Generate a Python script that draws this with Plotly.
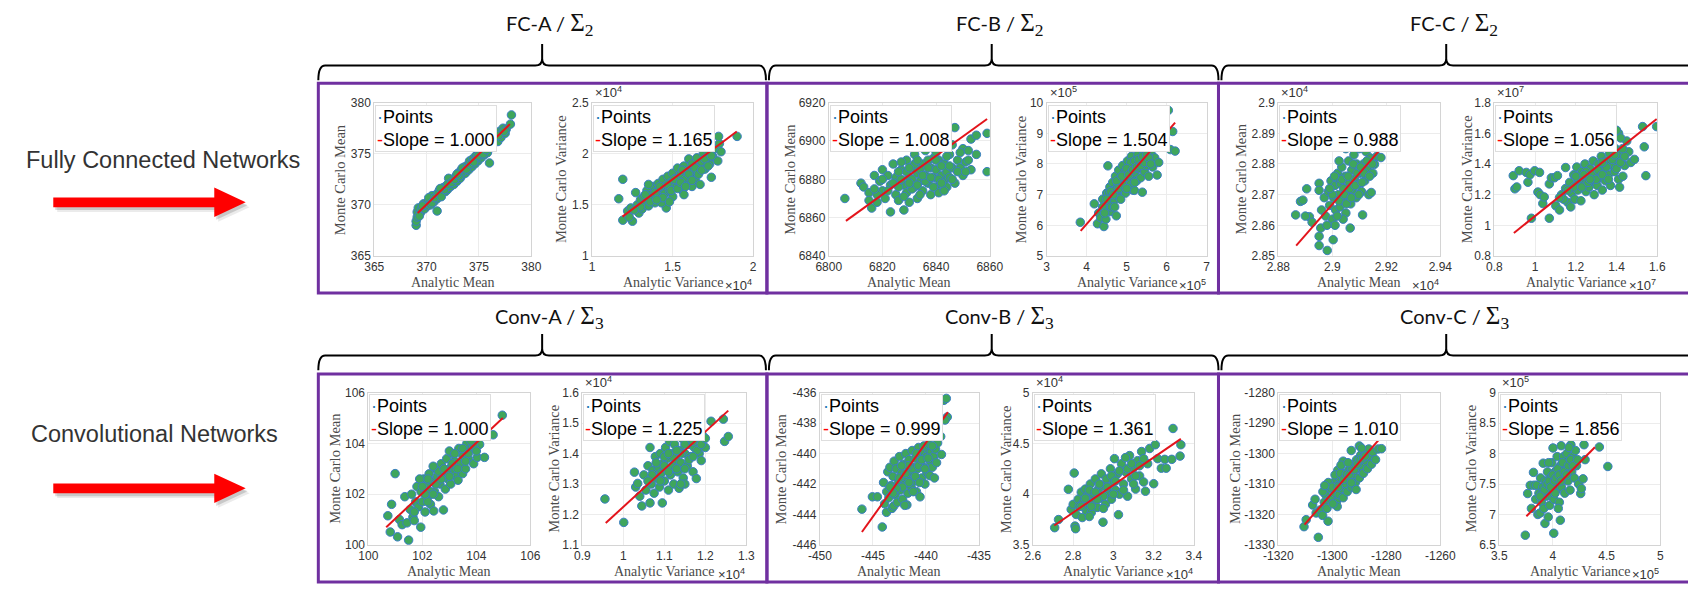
import plotly.graph_objects as go

W, H = 1688, 591

# ---------------- data ----------------
group_names = ["FC-A", "FC-B", "FC-C", "Conv-A", "Conv-B", "Conv-C"]
sigma_index = [2, 2, 2, 3, 3, 3]
row_labels = ["Fully Connected Networks", "Convolutional Networks"]
slopes = ["1.000", "1.165", "1.008", "1.504", "0.988", "1.056",
          "1.000", "1.225", "0.999", "1.361", "1.010", "1.856"]
x_titles = ["Analytic Mean", "Analytic Variance"] * 6
y_titles = ["Monte Carlo Mean", "Monte Carlo Variance"] * 6
exponents = [None, 4, None, 5, 4, 7, None, 4, None, 4, None, 5]

x_ticks = [
    [365, 370, 375, 380], [1, 1.5, 2],
    [6800, 6820, 6840, 6860], [3, 4, 5, 6, 7],
    [2.88, 2.9, 2.92, 2.94], [0.8, 1, 1.2, 1.4, 1.6],
    [100, 102, 104, 106], [0.9, 1, 1.1, 1.2, 1.3],
    [-450, -445, -440, -435], [2.6, 2.8, 3, 3.2, 3.4],
    [-1320, -1300, -1280, -1260], [3.5, 4, 4.5, 5],
]
y_ticks = [
    [365, 370, 375, 380], [1, 1.5, 2, 2.5],
    [6840, 6860, 6880, 6900, 6920], [5, 6, 7, 8, 9, 10],
    [2.85, 2.86, 2.87, 2.88, 2.89, 2.9], [0.8, 1, 1.2, 1.4, 1.6, 1.8],
    [100, 102, 104, 106], [1.1, 1.2, 1.3, 1.4, 1.5, 1.6],
    [-446, -444, -442, -440, -438, -436], [3.5, 4, 4.5, 5],
    [-1330, -1320, -1310, -1300, -1290, -1280], [6.5, 7, 7.5, 8, 8.5, 9],
]

fit_x_start = [369.15, 1.188, 6806.4, 3.85, 2.8866, 0.896, 100.66, 0.957, -446.04, 2.706, -1310.3, 3.753]
fit_x_end = [377.95, 1.898, 6859.0, 6.21, 2.9180, 1.597, 104.98, 1.256, -437.93, 3.335, -1282.0, 4.391]
fit_y_start = [369.2, 1.385, 6858.3, 5.82, 2.8534, 0.950, 100.70, 1.172, -445.15, 3.692, -1323.3, 6.970]
fit_y_end = [377.9, 2.218, 6911.5, 9.35, 2.8850, 1.693, 105.0, 1.541, -437.28, 4.545, -1294.7, 8.103]

fc_a_mean = [(369.0,368.0),(369.0,368.4),(369.1,368.8),(369.1,369.3),(369.2,369.7),(369.4,369.2),(369.5,369.6),
    (369.7,370.1),(369.8,369.6),(370.0,370.2),(370.1,369.9),(370.3,370.5),(370.4,370.0),(370.6,370.6),(370.7,370.3),
    (370.9,371.0),(371.0,369.4),(371.0,370.6),(371.2,371.4),(371.3,370.9),(371.5,371.2),(371.6,371.7),(371.8,371.3),
    (371.9,371.9),(372.0,371.5),(372.2,372.3),(372.3,371.8),(372.5,372.5),(372.6,372.0),(372.8,372.8),(372.9,372.3),
    (373.0,373.1),(373.2,372.6),(373.3,373.4),(373.4,372.9),(373.6,373.7),(373.7,373.1),(373.9,373.9),(374.0,373.4),
    (374.1,374.3),(374.3,373.7),(374.4,374.5),(374.6,374.0),(374.7,374.8),(374.9,374.3),(375.0,375.0),(375.2,374.6),
    (375.3,375.3),(375.5,374.9),(375.6,375.6),(375.8,375.1),(376.0,374.1),(376.0,375.8),(376.3,376.0),(376.5,376.4),
    (376.6,376.9),(376.8,376.2),(377.0,377.2),(377.1,376.6),(377.3,377.5),(377.5,377.0),(377.6,377.4),(378.0,377.9),
    (378.1,378.8),(370.5,370.9),(372.1,372.6),(373.5,373.3),(374.8,374.6),
    (369.3,368.9),(369.6,369.9),(370.2,370.7),(370.5,370.2),(370.8,370.7),(371.1,371.1),(371.4,370.8),(371.7,371.5),
    (372.0,372.0),(372.4,372.2),(372.7,372.5),(373.1,372.8),(373.4,373.6),(373.8,373.5),(374.2,374.0),(374.5,374.2),
    (374.9,374.8),(375.4,375.0),(375.7,375.4),(376.2,375.6),(376.4,376.7),(376.9,376.8),(377.4,377.2),(371.3,371.6),
    (372.9,373.0)]

fc_a_var = [(1.19,1.75),(1.165,1.56),(1.19,1.35),(1.22,1.44),(1.25,1.34),(1.24,1.47),(1.27,1.62),(1.28,1.50),
    (1.29,1.42),(1.30,1.55),(1.31,1.46),(1.32,1.58),(1.33,1.51),(1.34,1.64),(1.35,1.49),(1.36,1.60),(1.37,1.55),
    (1.38,1.68),(1.39,1.52),(1.40,1.63),(1.41,1.71),(1.42,1.58),(1.43,1.66),(1.44,1.75),(1.45,1.61),(1.46,1.69),
    (1.46,1.47),(1.47,1.78),(1.48,1.64),(1.49,1.72),(1.50,1.81),(1.50,1.58),(1.51,1.68),(1.52,1.76),(1.53,1.86),
    (1.54,1.70),(1.55,1.80),(1.56,1.64),(1.57,1.88),(1.58,1.75),(1.59,1.83),(1.60,1.95),(1.60,1.70),(1.61,1.79),
    (1.62,1.90),(1.63,1.84),(1.64,1.74),(1.65,1.96),(1.66,1.87),(1.67,1.70),(1.68,1.92),(1.69,2.00),(1.70,1.85),
    (1.71,1.95),(1.72,2.03),(1.73,1.90),(1.74,1.77),(1.75,1.97),(1.76,2.05),(1.78,1.93),(1.79,2.10),(1.785,2.17),
    (1.80,2.02),(1.90,2.17),(1.57,1.60),(1.43,1.52),(1.35,1.70),(1.62,1.68),
    (1.30,1.48),(1.33,1.60),(1.36,1.53),(1.39,1.62),(1.42,1.68),(1.44,1.57),(1.47,1.70),(1.49,1.64),(1.51,1.75),
    (1.53,1.66),(1.55,1.72),(1.56,1.84),(1.58,1.68),(1.60,1.80),(1.62,1.74),(1.64,1.86),(1.66,1.80),(1.68,1.84),
    (1.70,1.95),(1.72,1.88),(1.74,1.98),(1.48,1.53),(1.40,1.55),(1.26,1.45),(1.23,1.38)]

fc_b_mean = [(6806,6870),(6812,6878),(6813,6876),(6815,6873),(6815,6869),(6816,6865),(6817,6882),(6818,6868),
    (6819,6879),(6820,6885),(6820,6874),(6821,6870),(6822,6882),(6823,6863),(6823,6877),(6824,6888),(6825,6872),
    (6825,6881),(6826,6869),(6827,6885),(6828,6864),(6828,6877),(6829,6890),(6829,6873),(6830,6881),(6830,6868),
    (6831,6886),(6832,6876),(6832,6893),(6833,6870),(6833,6883),(6834,6879),(6835,6888),(6835,6874),(6836,6895),
    (6836,6882),(6837,6878),(6838,6886),(6838,6872),(6839,6891),(6839,6881),(6840,6876),(6840,6885),(6841,6873),
    (6841,6890),(6842,6882),(6843,6879),(6843,6888),(6844,6884),(6845,6881),(6845,6893),(6846,6886),(6847,6907),
    (6847,6878),(6848,6890),(6849,6886),(6850,6882),(6850,6896),(6851,6889),(6852,6890),(6853,6901),(6853,6885),
    (6855,6903),(6855,6893),(6859,6904),(6859,6884),(6826,6876),(6831,6880),(6834,6885),(6837,6890),(6827,6880),
    (6840,6894),(6822,6874),(6818,6872),(6844,6876),(6838,6898),(6832,6888),(6829,6884),
    (6824,6878),(6826,6884),(6828,6871),(6830,6886),(6831,6875),(6833,6890),(6834,6872),(6836,6879),(6837,6886),
    (6839,6876),(6840,6890),(6841,6880),(6842,6887),(6843,6874),(6844,6892),(6846,6880),(6848,6884),(6849,6894),
    (6851,6884),(6846,6898),(6835,6882),(6838,6881),(6842,6878),(6830,6878),(6827,6889),(6833,6877),(6845,6887),
    (6820,6880),(6817,6875),(6852,6895)]

fc_b_var = [(3.84,6.10),(4.19,6.70),(4.27,6.05),(4.30,6.40),(4.35,6.25),(4.40,6.85),(4.43,5.96),(4.45,6.55),
    (4.48,6.20),(4.50,7.05),(4.53,7.94),(4.55,6.70),(4.58,7.25),(4.60,6.45),(4.62,6.95),(4.65,7.40),(4.68,6.80),
    (4.70,7.15),(4.72,7.60),(4.74,6.31),(4.76,7.00),(4.78,7.35),(4.80,7.80),(4.82,6.90),(4.85,7.55),(4.88,7.20),
    (4.90,7.95),(4.92,7.40),(4.95,7.70),(4.97,7.05),(5.00,7.50),(5.02,8.10),(5.05,7.30),(5.07,7.85),(5.10,7.60),
    (5.12,8.25),(5.15,7.15),(5.17,7.95),(5.19,7.14),(5.20,7.70),(5.23,8.05),(5.25,7.45),(5.28,8.30),(5.30,7.85),
    (5.33,8.15),(5.35,7.55),(5.39,7.08),(5.40,8.00),(5.43,8.35),(5.45,7.75),(5.48,8.20),(5.50,7.95),(5.53,8.45),
    (5.55,7.60),(5.58,8.10),(5.62,8.30),(5.65,7.90),(5.70,8.20),(5.76,7.64),(5.80,8.05),(6.04,9.75),(6.09,8.47),
    (6.15,9.06),(6.21,8.42),(4.62,6.60),(4.95,7.25),(5.10,8.05),(4.40,6.60),(4.85,6.85),
    (4.55,7.05),(4.60,7.10),(4.67,7.00),(4.75,7.45),(4.80,7.20),(4.88,7.60),(4.93,7.30),(5.00,7.85),(5.05,7.65),
    (5.10,7.35),(5.15,7.80),(5.20,8.10),(5.25,7.90),(5.30,8.15),(5.35,7.95),(5.40,8.25),(5.45,8.05),(5.50,8.30),
    (5.55,8.20),(5.60,8.00),(4.45,6.40),(4.50,6.85),(4.70,6.60),(5.00,7.20),(5.20,7.40)]

fc_c_mean = [(2.8864,2.8634),(2.8882,2.8678),(2.8891,2.8682),(2.8905,2.8719),(2.8915,2.8628),(2.8900,2.8630),
    (2.8925,2.8610),(2.8951,2.8737),(2.8951,2.8714),(2.8951,2.8564),(2.8951,2.8534),(2.8981,2.8518),(2.9003,2.8553),
    (2.8957,2.8591),(2.8960,2.8650),(2.8970,2.8690),(2.8975,2.8630),(2.8985,2.8710),(2.8990,2.8665),(2.8995,2.8745),
    (2.9000,2.8620),(2.9005,2.8690),(2.9010,2.8730),(2.9012,2.8650),(2.9020,2.8770),(2.9022,2.8700),(2.9028,2.8660),
    (2.9030,2.8735),(2.9035,2.8790),(2.9040,2.8680),(2.9042,2.8720),(2.9048,2.8760),(2.9050,2.8640),(2.9055,2.8700),
    (2.9060,2.8810),(2.9062,2.8740),(2.9066,2.8591),(2.9068,2.8670),(2.9072,2.8780),(2.9075,2.8715),(2.9080,2.8830),
    (2.9082,2.8750),(2.9088,2.8690),(2.9090,2.8800),(2.9095,2.8735),(2.9100,2.8850),(2.9102,2.8770),(2.9108,2.8710),
    (2.9112,2.8634),(2.9115,2.8800),(2.9120,2.8745),(2.9125,2.8840),(2.9130,2.8780),(2.9135,2.8700),(2.9140,2.8820),
    (2.9144,2.8707),(2.9150,2.8770),(2.9156,2.8799),(2.9165,2.8825),(2.9180,2.8821),(2.9010,2.8600),(2.9040,2.8620),
    (2.8980,2.8600),(2.9025,2.8810),(2.9050,2.8850),(2.9070,2.8860),
    (2.9000,2.8700),(2.9015,2.8755),(2.9025,2.8680),(2.9035,2.8750),(2.9045,2.8700),(2.9058,2.8760),(2.9065,2.8720),
    (2.9078,2.8800),(2.9085,2.8730),(2.9092,2.8770),(2.9098,2.8700),(2.9105,2.8790),(2.9118,2.8770),(2.9128,2.8810),
    (2.9138,2.8760),(2.9148,2.8800),(2.8990,2.8720),(2.9018,2.8630),(2.9052,2.8670),(2.9008,2.8760),(2.9070,2.8690),
    (2.9110,2.8740)]

fc_c_var = [(0.893,1.324),(0.901,1.238),(0.910,1.250),(0.922,1.356),(0.957,1.345),(0.965,1.281),(0.975,1.330),
    (0.998,1.356),(1.022,1.345),(0.982,1.046),(1.014,1.217),(1.025,1.200),(1.038,1.142),(1.045,1.185),(1.070,1.270),
    (1.070,1.046),(1.080,1.310),(1.095,1.310),(1.110,1.324),(1.102,1.127),(1.120,1.100),(1.130,1.200),(1.150,1.377),
    (1.150,1.240),(1.160,1.150),(1.170,1.280),(1.175,1.120),(1.180,1.210),(1.190,1.330),(1.195,1.170),(1.200,1.260),
    (1.205,1.380),(1.210,1.230),(1.220,1.300),(1.225,1.160),(1.230,1.350),(1.240,1.270),(1.245,1.400),(1.250,1.220),
    (1.260,1.320),(1.265,1.250),(1.270,1.370),(1.280,1.290),(1.285,1.420),(1.290,1.200),(1.300,1.340),(1.305,1.260),
    (1.310,1.400),(1.320,1.310),(1.325,1.450),(1.330,1.230),(1.340,1.370),(1.345,1.290),(1.350,1.420),(1.360,1.330),
    (1.365,1.470),(1.370,1.260),(1.380,1.390),(1.390,1.350),(1.395,1.500),(1.400,1.420),(1.410,1.300),(1.415,1.249),
    (1.420,1.460),(1.431,1.320),(1.440,1.390),(1.450,1.550),(1.460,1.480),(1.470,1.410),(1.488,1.430),(1.528,1.644),
    (1.536,1.512),(1.544,1.324),(1.597,1.644),(1.410,1.600),(1.420,1.570),(1.400,1.620),
    (1.190,1.250),(1.210,1.300),(1.230,1.250),(1.250,1.350),(1.260,1.280),(1.280,1.330),(1.300,1.300),(1.310,1.360),
    (1.330,1.330),(1.350,1.380),(1.360,1.300),(1.380,1.430),(1.400,1.370),(1.420,1.410),(1.440,1.450),(1.160,1.230),
    (1.140,1.170),(1.120,1.180),(1.200,1.320),(1.240,1.330),(1.270,1.300),(1.330,1.410),(1.390,1.460),(1.430,1.500)]

conv_a_mean = [(100.72,101.15),(100.81,100.51),(100.86,101.60),(100.99,102.81),(101.08,100.32),(101.15,101.00),
    (101.25,100.80),(101.35,101.90),(101.43,100.87),(101.49,100.19),(101.55,101.40),(101.60,102.00),(101.65,101.10),
    (101.70,100.96),(101.75,101.70),(101.80,102.30),(101.85,101.50),(101.94,100.70),(101.95,102.10),(102.00,101.70),
    (102.05,102.60),(102.10,101.30),(102.15,102.30),(102.20,101.90),(102.25,102.80),(102.30,101.60),(102.35,102.50),
    (102.42,101.34),(102.45,102.10),(102.50,103.00),(102.55,102.70),(102.60,101.90),(102.65,102.40),(102.70,103.20),
    (102.78,101.38),(102.80,102.80),(102.85,102.20),(102.90,103.40),(102.95,102.60),(103.00,103.00),(103.05,102.40),
    (103.10,103.60),(103.15,102.90),(103.20,103.30),(103.25,102.70),(103.32,102.55),(103.35,103.80),(103.40,103.20),
    (103.49,102.81),(103.50,103.50),(103.60,103.00),(103.65,104.00),(103.70,103.40),(103.80,103.80),(103.90,103.20),
    (104.03,103.45),(104.05,104.20),(104.12,103.96),(104.30,103.45),(104.62,104.34),(104.96,105.11),(102.20,102.60),
    (102.60,102.90),(103.00,103.70),(101.90,102.60),(102.40,103.10),
    (102.00,102.30),(102.30,102.10),(102.50,102.40),(102.70,102.60),(102.90,102.90),(103.10,103.20),(103.30,103.00),
    (103.50,103.80),(103.70,103.60),(103.90,103.90),(102.20,101.70),(101.70,101.30),(102.80,103.00),(103.20,103.60),
    (103.60,103.30),(102.40,102.00),(103.00,102.70),(104.00,103.70),(103.80,104.10),(102.10,102.00)]

conv_a_var = [(0.955,1.251),(1.001,1.174),(1.027,1.339),(1.030,1.290),(1.035,1.302),(1.040,1.260),(1.045,1.228),
    (1.050,1.330),(1.055,1.280),(1.060,1.360),(1.065,1.238),(1.065,1.420),(1.068,1.300),(1.072,1.345),(1.075,1.270),
    (1.078,1.390),(1.080,1.320),(1.085,1.355),(1.088,1.290),(1.090,1.400),(1.092,1.335),(1.095,1.238),(1.098,1.370),
    (1.100,1.310),(1.103,1.420),(1.105,1.350),(1.108,1.385),(1.110,1.280),(1.113,1.440),(1.115,1.330),(1.118,1.400),
    (1.120,1.360),(1.123,1.300),(1.125,1.430),(1.128,1.380),(1.130,1.460),(1.133,1.340),(1.136,1.286),(1.138,1.410),
    (1.140,1.370),(1.143,1.450),(1.146,1.320),(1.150,1.400),(1.153,1.480),(1.156,1.360),(1.160,1.430),(1.163,1.390),
    (1.166,1.470),(1.170,1.340),(1.173,1.420),(1.178,1.318),(1.180,1.450),(1.185,1.400),(1.190,1.377),(1.193,1.460),
    (1.200,1.420),(1.214,1.506),(1.244,1.513),(1.247,1.440),(1.256,1.456),(1.150,1.300),(1.100,1.390),(1.120,1.490),
    (1.070,1.330),(1.090,1.310),(1.100,1.360),(1.110,1.340),(1.120,1.390),(1.130,1.350),(1.140,1.400),(1.150,1.430),
    (1.160,1.380),(1.170,1.440),(1.180,1.410),(1.190,1.430),(1.130,1.410),(1.110,1.400),(1.150,1.350),(1.170,1.390),
    (1.080,1.370),(1.200,1.450),(1.060,1.310),(1.140,1.300)]

conv_b_mean = [(-446.04,-443.65),(-445.05,-442.84),(-444.58,-442.84),(-444.12,-444.82),(-444.00,-441.90),
    (-443.90,-443.30),(-443.72,-443.86),(-443.70,-442.50),(-443.60,-441.20),(-443.50,-442.90),(-443.40,-440.90),
    (-443.30,-442.10),(-443.20,-443.60),(-443.10,-441.50),(-443.03,-443.44),(-443.00,-440.50),(-442.90,-442.70),
    (-442.80,-441.00),(-442.70,-443.20),(-442.60,-441.90),(-442.50,-440.20),(-442.40,-442.40),(-442.30,-441.30),
    (-442.20,-443.00),(-442.10,-440.70),(-442.00,-442.00),(-441.90,-440.00),(-441.80,-443.37),(-441.80,-441.60),
    (-441.70,-442.60),(-441.60,-440.40),(-441.50,-441.20),(-441.40,-442.20),(-441.30,-439.80),(-441.20,-440.90),
    (-441.10,-441.80),(-441.00,-440.30),(-440.90,-442.50),(-440.80,-441.00),(-440.70,-439.60),(-440.56,-442.84),
    (-440.50,-440.60),(-440.40,-441.60),(-440.30,-439.90),(-440.20,-440.90),(-440.10,-442.00),(-440.00,-440.20),
    (-439.90,-441.30),(-439.80,-439.70),(-439.63,-441.45),(-439.60,-440.50),(-439.50,-439.90),(-439.40,-440.90),
    (-439.30,-440.20),(-439.20,-441.60),(-439.10,-439.70),(-439.00,-440.60),(-438.90,-439.30),(-438.61,-438.88),
    (-438.54,-440.06),(-438.61,-436.53),(-438.30,-436.50),(-438.08,-436.38),(-437.99,-437.60),(-438.20,-437.80),
    (-442.50,-441.60),(-442.20,-442.20),(-441.90,-441.30),(-441.60,-441.90),(-441.30,-441.00),(-441.00,-441.50),
    (-440.70,-440.80),(-440.40,-440.40),(-440.10,-441.00),(-439.80,-440.30),(-442.80,-442.30),(-443.10,-442.60),
    (-441.70,-440.80),(-440.90,-440.00),(-440.20,-439.50),(-439.70,-439.40),(-442.30,-440.80),(-441.20,-442.50),
    (-440.60,-441.90),(-439.40,-439.50),(-443.40,-442.20),(-442.00,-443.40)]

conv_b_var = [(2.708,3.670),(2.727,3.750),(2.776,4.048),(2.790,3.850),(2.800,3.900),(2.805,4.208),(2.809,3.686),
    (2.812,3.660),(2.815,3.800),(2.825,3.950),(2.830,3.880),(2.840,4.020),(2.845,3.770),(2.850,3.920),(2.860,4.050),
    (2.865,3.840),(2.870,3.980),(2.880,3.900),(2.885,4.100),(2.890,3.820),(2.900,4.000),(2.905,3.930),(2.910,4.150),
    (2.920,3.870),(2.925,4.050),(2.935,3.960),(2.940,4.200),(2.948,3.724),(2.950,4.080),(2.960,3.900),(2.965,4.150),
    (2.975,4.010),(2.985,4.250),(2.990,3.950),(3.000,4.120),(3.005,4.350),(3.010,4.040),(3.020,4.200),(3.025,3.798),
    (3.030,4.000),(3.040,4.300),(3.050,4.100),(3.060,4.220),(3.070,3.980),(3.080,4.380),(3.090,4.150),(3.100,4.260),
    (3.110,4.050),(3.120,4.330),(3.130,4.180),(3.140,4.420),(3.150,4.120),(3.159,4.029),(3.170,4.300),(3.180,4.450),
    (3.200,4.103),(3.208,4.487),(3.220,4.350),(3.238,4.256),(3.255,4.343),(3.262,4.256),(3.290,4.343),(3.296,4.647),
    (3.331,4.375),(3.335,4.487),(2.950,3.860),(3.060,4.360),(2.880,4.040),
    (2.860,3.960),(2.890,3.880),(2.910,4.020),(2.930,4.100),(2.950,3.980),(2.970,4.070),(2.990,4.180),(3.010,4.130),
    (3.030,4.230),(3.050,4.040),(3.070,4.250),(3.090,4.300),(3.110,4.180),(3.130,4.280),(3.150,4.350),(2.840,3.880),
    (2.880,3.780),(2.920,3.950),(3.000,4.000),(3.100,4.100)]

conv_c_mean = [(-1310.5,-1324.0),(-1309.7,-1321.7),(-1307.3,-1316.9),(-1306.4,-1315.0),(-1306.0,-1319.5),
    (-1305.2,-1327.5),(-1304.5,-1318.5),(-1303.6,-1320.3),(-1303.0,-1316.0),(-1302.5,-1313.5),(-1302.0,-1318.0),
    (-1301.6,-1322.2),(-1301.0,-1315.0),(-1300.5,-1311.5),(-1300.0,-1314.5),(-1299.5,-1309.5),(-1299.0,-1313.0),
    (-1298.5,-1316.0),(-1298.2,-1317.4),(-1298.0,-1310.5),(-1297.5,-1313.5),(-1297.0,-1308.0),(-1296.5,-1311.5),
    (-1296.0,-1314.5),(-1295.5,-1306.5),(-1295.0,-1310.0),(-1294.5,-1312.5),(-1294.0,-1305.5),(-1293.5,-1308.5),
    (-1293.0,-1311.0),(-1292.5,-1303.5),(-1292.0,-1307.0),(-1291.5,-1309.5),(-1291.2,-1311.8),(-1291.0,-1302.0),
    (-1290.5,-1305.0),(-1290.0,-1308.0),(-1289.5,-1300.5),(-1289.0,-1304.0),(-1288.5,-1306.5),(-1288.0,-1299.5),
    (-1287.5,-1302.5),(-1287.0,-1305.0),(-1286.5,-1298.5),(-1286.0,-1301.0),(-1285.5,-1303.5),(-1285.0,-1299.5),
    (-1284.0,-1302.0),(-1283.0,-1298.5),(-1281.8,-1298.4),(-1296.0,-1302.5),(-1293.0,-1299.0),(-1298.0,-1305.5),
    (-1301.5,-1309.5),(-1290.0,-1297.5),
    (-1300.0,-1311.0),(-1299.0,-1307.0),(-1297.8,-1311.0),(-1297.0,-1306.5),(-1295.8,-1308.5),(-1294.8,-1306.8),
    (-1293.8,-1307.0),(-1292.8,-1305.0),(-1291.8,-1305.2),(-1290.8,-1303.5),(-1289.8,-1302.0),(-1288.8,-1301.5),
    (-1287.8,-1300.8),(-1303.5,-1312.5),(-1302.8,-1310.5),(-1296.8,-1303.8),(-1294.2,-1303.0),(-1289.2,-1298.2),
    (-1299.8,-1316.5),(-1293.0,-1309.6)]

conv_c_var = [(3.743,6.660),(3.765,7.344),(3.789,7.478),(3.800,7.100),(3.819,7.691),(3.825,7.480),(3.840,7.250),
    (3.850,7.480),(3.860,7.000),(3.870,7.350),(3.880,7.024),(3.885,7.600),(3.895,7.200),(3.905,7.450),(3.910,7.842),
    (3.915,7.100),(3.926,6.853),(3.930,7.550),(3.940,7.300),(3.950,7.700),(3.956,6.959),(3.960,7.400),(3.970,7.150),
    (3.975,7.600),(3.985,7.300),(3.990,7.850),(4.000,7.500),(4.001,8.092),(4.008,6.692),(4.010,7.250),(4.020,7.700),
    (4.030,7.400),(4.040,7.950),(4.050,7.550),(4.060,7.200),(4.069,6.906),(4.070,7.800),(4.077,8.129),(4.080,7.450),
    (4.090,7.650),(4.100,7.950),(4.110,7.350),(4.120,7.750),(4.130,8.000),(4.140,7.550),(4.150,7.850),(4.160,7.400),
    (4.168,8.145),(4.175,7.700),(4.185,7.950),(4.200,7.600),(4.210,8.050),(4.220,7.800),(4.240,7.500),(4.259,7.344),
    (4.265,7.425),(4.281,7.585),(4.290,8.145),(4.300,7.900),(4.433,8.108),(4.512,7.788),(4.050,7.100),(3.960,7.850),
    (4.150,8.100),
    (3.900,7.350),(3.920,7.400),(3.945,7.500),(3.965,7.550),(3.980,7.450),(4.000,7.650),(4.015,7.550),(4.030,7.600),
    (4.045,7.750),(4.060,7.650),(4.075,7.550),(4.090,7.850),(4.105,7.700),(4.125,7.650),(4.145,7.800),(4.165,7.900),
    (4.190,7.800),(4.230,7.900),(3.880,7.300),(4.020,7.350)]

panel_points = [fc_a_mean, fc_a_var, fc_b_mean, fc_b_var, fc_c_mean, fc_c_var,
                conv_a_mean, conv_a_var, conv_b_mean, conv_b_var, conv_c_mean, conv_c_var]

# ---------------- layout geometry (pixels) ----------------
row_y = [(98, 255), (395, 551)]
col_x = [
    [(366, 526), (588, 752), (829, 993), (1051, 1214), (1287, 1452), (1507, 1673)],
    [(360, 525), (578, 745), (820, 982), (1037, 1201), (1287, 1452), (1512, 1676)],
]
ytitle_offset = [35, 31, 39, 26, 38, 28, 34, 29, 40, 28, 44, 29]

TICK_FONT = dict(family="Liberation Sans, Arial, sans-serif", size=12, color="#333333")
SERIF = "Liberation Serif, DejaVu Serif, serif"
SANS = "Liberation Sans, Arial, sans-serif"


def fx(x):
    return x / W


def fy(y):
    return 1 - y / H


def pp(x, y):
    return f"{fx(x):.5f},{fy(y):.5f}"


def fmt(v):
    return f"{v:g}"


fig = go.Figure()
annotations = []
shapes = []
layout_axes = {}

for i in range(12):
    row, col = divmod(i, 6)
    l, r = col_x[row][col]
    t, b = row_y[row]
    sfx = "" if i == 0 else str(i + 1)
    pts = panel_points[i]
    xs = [p[0] for p in pts]
    ys = [p[1] for p in pts]
    fig.add_trace(go.Scatter(
        x=xs, y=ys, mode="markers", xaxis="x" + sfx, yaxis="y" + sfx,
        marker=dict(size=8.5, color="#3fa65c", line=dict(color="#3a7ec4", width=1)),
        showlegend=False, hoverinfo="skip"))
    fig.add_trace(go.Scatter(
        x=[fit_x_start[i], fit_x_end[i]], y=[fit_y_start[i], fit_y_end[i]],
        mode="lines", xaxis="x" + sfx, yaxis="y" + sfx,
        line=dict(color="#e3141b", width=2), showlegend=False, hoverinfo="skip"))
    xt, yt = x_ticks[i], y_ticks[i]
    common = dict(showgrid=True, gridcolor="#ececec", gridwidth=1, zeroline=False,
                  showline=True, mirror=True, linecolor="#d4d4d4", linewidth=1,
                  ticks="", tickfont=TICK_FONT, fixedrange=True)
    layout_axes["xaxis" + sfx] = dict(domain=[fx(l), fx(r)], anchor="y" + sfx,
                                      range=[xt[0], xt[-1]], tickvals=xt,
                                      ticktext=[fmt(v) for v in xt], **common)
    layout_axes["yaxis" + sfx] = dict(domain=[fy(b), fy(t)], anchor="x" + sfx,
                                      range=[yt[0], yt[-1]], tickvals=yt,
                                      ticktext=[fmt(v) for v in yt], **common)
    # legend box
    annotations.append(dict(
        xref=f"x{sfx} domain", yref=f"y{sfx} domain", x=0.006, y=0.988,
        xanchor="left", yanchor="top", showarrow=False, align="left",
        text=('<span style="color:#1f77b4">·</span>Points<br>'
              f'<span style="color:#ff0000">-</span>Slope = {slopes[i]}'),
        font=dict(family=SANS, size=18, color="#000000"),
        bgcolor="#ffffff", bordercolor="#dedede", borderwidth=1, borderpad=1))
    # axis titles
    annotations.append(dict(xref="paper", yref="paper", x=fx((l + r) / 2), y=fy(b + 27),
                            text=x_titles[i], showarrow=False, xanchor="center", yanchor="middle",
                            font=dict(family=SERIF, size=14, color="#4a4a4a")))
    annotations.append(dict(xref="paper", yref="paper", x=fx(l - ytitle_offset[i]), y=fy((t + b) / 2),
                            text=y_titles[i], showarrow=False, textangle=-90,
                            xanchor="center", yanchor="middle",
                            font=dict(family=SERIF, size=14.5, color="#4a4a4a")))
    if exponents[i] is not None:
        e = exponents[i]
        annotations.append(dict(xref="paper", yref="paper", x=fx(l + 1), y=fy(t - 1),
                                text=f"×10<sup>{e}</sup>", showarrow=False,
                                xanchor="left", yanchor="bottom",
                                font=dict(family=SANS, size=13, color="#333333")))
        annotations.append(dict(xref="paper", yref="paper", x=fx(r + 1), y=fy(b + 30),
                                text=f"×10<sup>{e}</sup>", showarrow=False,
                                xanchor="right", yanchor="middle",
                                font=dict(family=SANS, size=13, color="#333333")))

# ---------------- group boxes, brackets, titles ----------------
PURPLE = "#7030a0"
row_geo = [dict(line=60, tip=38, end=75, title=18, top=78, bottom=293),
           dict(line=357, tip=335, end=372, title=318, top=376, bottom=589)]
groups = [(309, 765, 537), (768, 1226, 995), (1229, 1712, 1458)]
boxes = [(309, 766), (766, 1226), (1226, 1720)]

for row, g in enumerate(row_geo):
    for k, ((xl, xr, xc), (bx0, bx1)) in enumerate(zip(groups, boxes)):
        shapes.append(dict(type="rect", xref="paper", yref="paper",
                           x0=fx(bx0), x1=fx(bx1), y0=fy(g["bottom"]), y1=fy(g["top"]),
                           line=dict(color=PURPLE, width=3), fillcolor="rgba(0,0,0,0)"))
        yl, yt, ye = g["line"], g["tip"], g["end"]
        rr = 7
        path = (f"M {pp(xl, ye)} Q {pp(xl, yl)} {pp(xl + rr, yl)} L {pp(xc - rr, yl)} "
                f"Q {pp(xc, yl)} {pp(xc, yl - rr)} L {pp(xc, yt)} "
                f"M {pp(xc, yl - rr)} Q {pp(xc, yl)} {pp(xc + rr, yl)} L {pp(xr - rr, yl)} "
                f"Q {pp(xr, yl)} {pp(xr, ye)}")
        shapes.append(dict(type="path", xref="paper", yref="paper", path=path,
                           line=dict(color="#000000", width=2)))
        gi = row * 3 + k
        annotations.append(dict(
            xref="paper", yref="paper", x=fx(xc + 8), y=fy(g["title"]),
            xanchor="center", yanchor="middle", showarrow=False,
            text=(f'{group_names[gi]} / <span style="font-family:Liberation Serif;font-size:25px">'
                  f'Σ<sub>{sigma_index[gi]}</sub></span>'),
            font=dict(family="Lato, Liberation Sans, sans-serif", size=20, color="#111111")))

# ---------------- row labels and arrows ----------------
label_pos = [(151, 157), (142, 437)]
arrow_y = [200, 493]
for row in range(2):
    lx, ly = label_pos[row]
    annotations.append(dict(xref="paper", yref="paper", x=fx(lx), y=fy(ly), showarrow=False,
                            xanchor="center", yanchor="middle", text=row_labels[row],
                            font=dict(family=SANS, size=23.5, color="#333333")))
    ay = arrow_y[row]

    def arrow(dx, dy):
        return (f"M {pp(39 + dx, ay - 5 + dy)} L {pp(203 + dx, ay - 5 + dy)} L {pp(203 + dx, ay - 15 + dy)} "
                f"L {pp(235 + dx, ay + dy)} L {pp(203 + dx, ay + 15 + dy)} L {pp(203 + dx, ay + 5 + dy)} "
                f"L {pp(39 + dx, ay + 5 + dy)} Z")
    shapes.append(dict(type="path", xref="paper", yref="paper", path=arrow(4, 5),
                       fillcolor="rgba(0,0,0,0.08)", line=dict(width=0)))
    shapes.append(dict(type="path", xref="paper", yref="paper", path=arrow(2, 3),
                       fillcolor="rgba(0,0,0,0.15)", line=dict(width=0)))
    shapes.append(dict(type="path", xref="paper", yref="paper", path=arrow(0, 0),
                       fillcolor="#ff0000", line=dict(width=0)))

fig.update_layout(
    width=W, height=H, margin=dict(l=0, r=0, t=0, b=0),
    paper_bgcolor="#ffffff", plot_bgcolor="#ffffff",
    showlegend=False, annotations=annotations, shapes=shapes, **layout_axes)

fig.write_html("out.html", config={"displayModeBar": False},
               post_script="document.body.style.margin='0';")
